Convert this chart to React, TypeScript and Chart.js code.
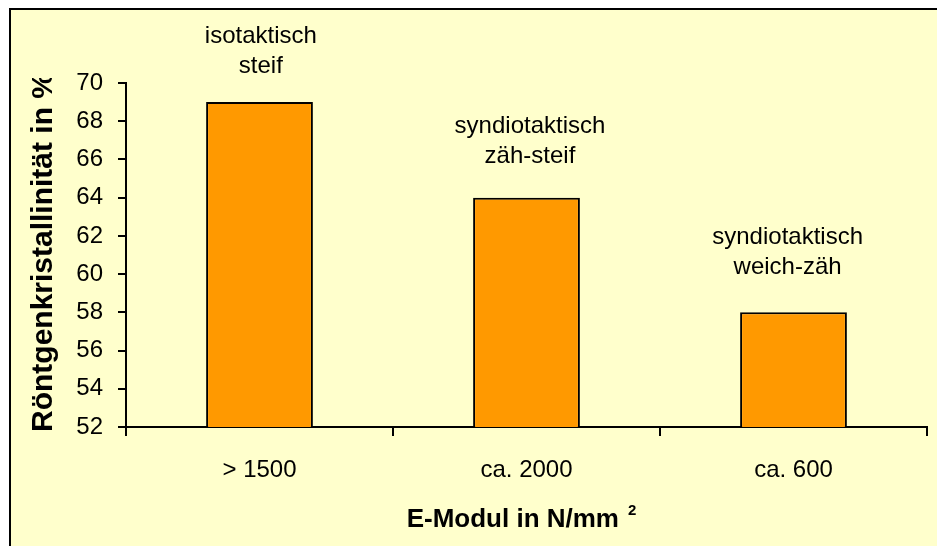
import React, { useEffect, useRef } from "react";
import { Chart, registerables } from "chart.js";

Chart.register(...registerables);

// ---- data ----
const categories = ["> 1500", "ca. 2000", "ca. 600"];
const crystallinity = [69, 64, 58];
const annotationLines = [
  ["isotaktisch", "steif"],
  ["syndiotaktisch", "zäh-steif"],
  ["syndiotaktisch", "weich-zäh"],
];
const annotationValue = [72.1, 67.4, 61.6]; // y value of first text baseline
const annotationShift = [0.005, 0.013, -0.022]; // shift in category widths
const yMin = 52;
const yMax = 70;
const yStep = 2;
const yTitle = "Röntgenkristallinität in %";
const xTitle = "E-Modul in N/mm";
const xTitleSup = "2";

const FONT = "'Liberation Sans', Arial, sans-serif";
const BG = "#FFFFCC";
const BAR = "#FF9900";

const overlay = {
  id: "overlay",
  afterDraw(chart: any) {
    const { ctx, chartArea, scales } = chart;
    const xs = scales.x;
    const ys = scales.y;
    const catW = xs.getPixelForValue(1) - xs.getPixelForValue(0);
    ctx.save();
    ctx.fillStyle = "#000";
    ctx.font = `24px ${FONT}`;
    ctx.textAlign = "center";
    ctx.textBaseline = "alphabetic";
    annotationLines.forEach((lines, i) => {
      const px = xs.getPixelForValue(i) + annotationShift[i] * catW;
      const py = ys.getPixelForValue(annotationValue[i]);
      lines.forEach((t, k) => ctx.fillText(t, px, py + k * 30));
    });
    ctx.restore();

    // y title (clipped at top like the original)
    ctx.save();
    ctx.beginPath();
    ctx.rect(0, 78, chart.width, chart.height);
    ctx.clip();
    ctx.translate(52, chartArea.bottom + 5);
    ctx.rotate(-Math.PI / 2);
    ctx.fillStyle = "#000";
    ctx.font = `bold 30px ${FONT}`;
    ctx.textAlign = "left";
    ctx.textBaseline = "alphabetic";
    ctx.fillText(yTitle, 0, 0);
    ctx.restore();

    // x title with superscript
    ctx.save();
    ctx.fillStyle = "#000";
    ctx.textAlign = "left";
    ctx.textBaseline = "alphabetic";
    ctx.font = `bold 26px ${FONT}`;
    const w1 = ctx.measureText(xTitle).width;
    ctx.font = `bold 15px ${FONT}`;
    const w2 = ctx.measureText(xTitleSup).width;
    const gap = 9;
    const cx = (chartArea.left + chartArea.right) / 2 - 5;
    const sx = cx - (w1 + gap + w2) / 2;
    const base = chartArea.bottom + 100;
    ctx.font = `bold 26px ${FONT}`;
    ctx.fillText(xTitle, sx, base);
    ctx.font = `bold 15px ${FONT}`;
    ctx.fillText(xTitleSup, sx + w1 + gap, base - 12);
    ctx.restore();
  },
};

export default function App() {
  const ref = useRef<HTMLCanvasElement>(null);
  useEffect(() => {
    if (!ref.current) return;
    const chart = new Chart(ref.current, {
      type: "bar",
      data: {
        labels: categories,
        datasets: [
          {
            data: crystallinity,
            backgroundColor: BAR,
            borderColor: "#000",
            borderWidth: 2,
            categoryPercentage: 1,
            barPercentage: 0.4,
          },
        ],
      },
      options: {
        animation: false,
        responsive: false,
        maintainAspectRatio: false,
        layout: { padding: { top: 83, right: 10, left: 0, bottom: 0 } },
        plugins: { legend: { display: false }, tooltip: { enabled: false } },
        scales: {
          x: {
            grid: {
              drawOnChartArea: false,
              drawTicks: true,
              tickLength: 9,
              color: "#000",
              lineWidth: 2,
              offset: true,
            },
            border: { display: true, color: "#000", width: 2 },
            ticks: {
              color: "#000",
              font: { family: FONT, size: 24 },
              padding: 20,
              maxRotation: 0,
              autoSkip: false,
            },
            afterFit: (s: any) => {
              s.height = 119;
            },
          },
          y: {
            min: yMin,
            max: yMax,
            ticks: {
              stepSize: yStep,
              color: "#000",
              font: { family: FONT, size: 24 },
              padding: 15,
            },
            grid: {
              drawOnChartArea: false,
              drawTicks: true,
              tickLength: 8,
              color: "#000",
              lineWidth: 2,
            },
            border: { display: true, color: "#000", width: 2 },
            afterFit: (s: any) => {
              s.width = 126;
            },
          },
        },
      },
      plugins: [overlay],
    });
    return () => chart.destroy();
  }, []);

  return (
    <div
      style={{
        position: "fixed",
        left: 0,
        top: 0,
        width: 937,
        height: 546,
        background: "#fff",
        overflow: "hidden",
      }}
    >
      <div
        style={{
          position: "absolute",
          left: 9,
          top: 8,
          right: -10,
          bottom: -10,
          background: BG,
          borderTop: "2px solid #000",
          borderLeft: "2px solid #000",
        }}
      />
      <canvas
        ref={ref}
        width={937}
        height={546}
        style={{ position: "absolute", left: 0, top: 0, width: 937, height: 546 }}
      />
    </div>
  );
}
